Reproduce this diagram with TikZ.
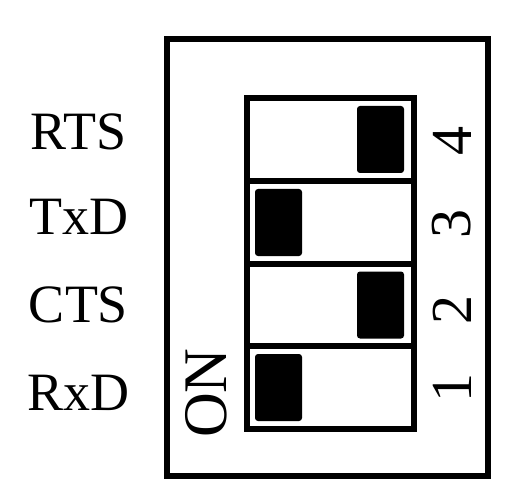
\documentclass[tikz,border=0pt]{standalone}
\usepackage{fontspec}
\setmainfont{Liberation Serif}
\usetikzlibrary{positioning}

\begin{document}
\begin{tikzpicture}[x=1pt,y=-1pt]

\tikzset{cell/.style = {shape=rectangle,draw,line width=5.5pt,minimum width=167pt,minimum height=83pt,outer sep=0pt,inner sep=0pt}}
\tikzset{knob/.style = {shape=rectangle,fill=black,rounded corners=3pt,minimum width=47pt,minimum height=67pt,outer sep=0pt,inner sep=0pt}}
\tikzset{pin/.style = {font=\fontsize{54}{54}\selectfont,anchor=base,inner sep=0pt}}
\tikzset{num/.style = {font=\fontsize{58}{58}\selectfont,rotate=90,inner sep=0pt}}
\useasboundingbox (0,0) rectangle (513,502);
%housing
\node[shape=rectangle,draw,line width=6pt,minimum width=321pt,minimum height=437pt] (case) at (327.5,257.5) {};
%switches
\node[cell] (s4) at (330.5,139.5) {};
\node[cell] (s3) at (330.5,222.5) {};
\node[cell] (s2) at (330.5,305) {};
\node[cell] (s1) at (330.5,387.5) {};
\node[knob, left=10pt of s4.east] (k4) {};
\node[knob, right=8pt of s3.west] (k3) {};
\node[knob, left=10pt of s2.east] (k2) {};
\node[knob, right=8pt of s1.west] (k1) {};
%numbers
\node[num] (n4) at (452,141) {4};
\node[num] (n3) at (452,224) {3};
\node[num] (n2) at (452,310) {2};
\node[num] (n1) at (452,388) {1};
\node[num,font=\fontsize{62}{62}\selectfont] (on) at (206,393) {ON};
%signals
\node[pin] (rts) at (78.5,150) {RTS};
\node[pin] (txd) at (78.5,235) {TxD};
\node[pin] (cts) at (78.5,322) {CTS};
\node[pin] (rxd) at (78.5,410) {RxD};

\end{tikzpicture}
\end{document}
